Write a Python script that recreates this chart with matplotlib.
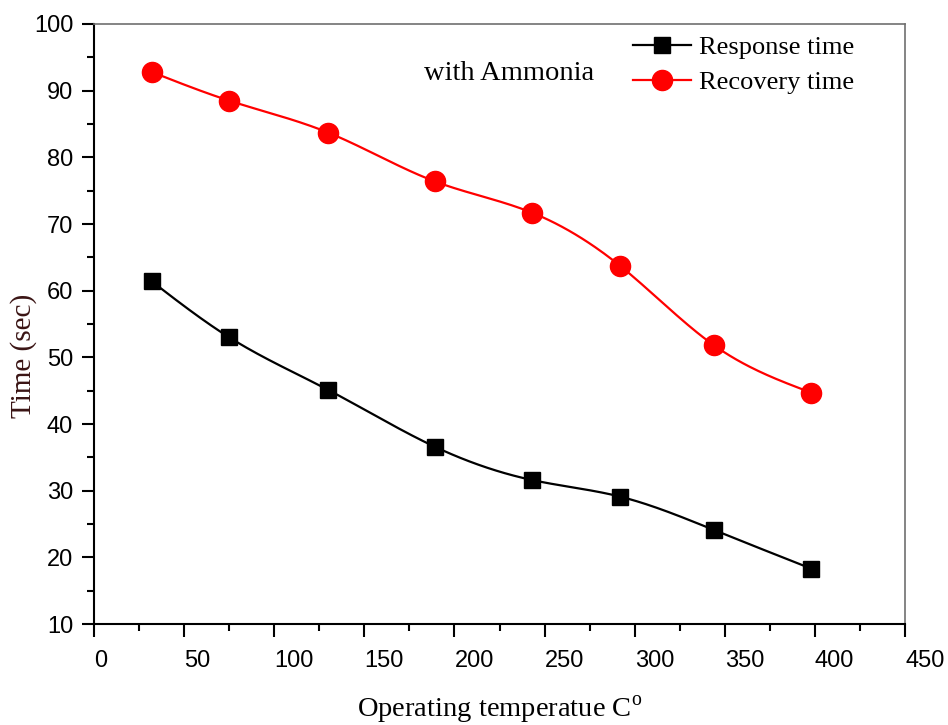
import numpy as np
import matplotlib
matplotlib.use("Agg")
import matplotlib.pyplot as plt
from matplotlib.ticker import MultipleLocator
from matplotlib.lines import Line2D

plt.rcParams['mathtext.fontset'] = 'custom'
plt.rcParams['mathtext.rm'] = 'Liberation Serif'

# Operating temperature (C) and measured times (sec)
temperature = [32, 75, 130, 189, 243, 292, 344, 398]
response_time = [61.4, 53.0, 45.1, 36.6, 31.6, 29.1, 24.1, 18.3]
recovery_time = [92.8, 88.5, 83.7, 76.4, 71.7, 63.7, 51.8, 44.7]


def natural_spline(x, y, n=300):
    # natural cubic spline through the points, for a smooth connecting line
    x = np.asarray(x, float)
    y = np.asarray(y, float)
    k = len(x)
    h = np.diff(x)
    A = np.zeros((k, k))
    r = np.zeros(k)
    A[0, 0] = A[-1, -1] = 1
    for i in range(1, k - 1):
        A[i, i - 1] = h[i - 1]
        A[i, i] = 2 * (h[i - 1] + h[i])
        A[i, i + 1] = h[i]
        r[i] = 3 * ((y[i + 1] - y[i]) / h[i] - (y[i] - y[i - 1]) / h[i - 1])
    c = np.linalg.solve(A, r)
    b = (y[1:] - y[:-1]) / h - h * (2 * c[:-1] + c[1:]) / 3
    d = (c[1:] - c[:-1]) / (3 * h)
    xs = np.linspace(x[0], x[-1], n)
    idx = np.clip(np.searchsorted(x, xs) - 1, 0, k - 2)
    t = xs - x[idx]
    ys = y[idx] + b[idx] * t + c[idx] * t ** 2 + d[idx] * t ** 3
    return xs, ys


fig = plt.figure(figsize=(9.48, 7.25), dpi=100)
ax = fig.add_axes([0.0992, 0.1393, 0.8555, 0.8276])

xs, ys = natural_spline(temperature, response_time)
ax.plot(xs, ys, color='black', lw=1.6, zorder=2)
ax.plot(temperature, response_time, 's', color='black', ms=12, zorder=3)

xs, ys = natural_spline(temperature, recovery_time)
ax.plot(xs, ys, color='red', lw=1.6, zorder=2)
ax.plot(temperature, recovery_time, 'o', color='red', ms=14.5, zorder=3)

ax.set_xlim(0, 450)
ax.set_ylim(10, 100)
ax.xaxis.set_major_locator(MultipleLocator(50))
ax.xaxis.set_minor_locator(MultipleLocator(25))
ax.yaxis.set_major_locator(MultipleLocator(10))
ax.yaxis.set_minor_locator(MultipleLocator(5))

for side in ['left', 'bottom']:
    ax.spines[side].set_linewidth(1.5)
    ax.spines[side].set_color('black')
for side in ['top', 'right']:
    ax.spines[side].set_linewidth(1.2)
    ax.spines[side].set_color('#707070')

ax.tick_params(which='major', direction='out', length=9, width=1.5,
               top=False, right=False)
ax.tick_params(which='minor', direction='out', length=4.8, width=1.5,
               top=False, right=False)
ax.tick_params(axis='x', which='major', pad=10)
ax.tick_params(axis='y', which='major', pad=6)

for lab in ax.get_xticklabels() + ax.get_yticklabels():
    lab.set_fontfamily('Liberation Sans')
    lab.set_fontsize(17)
for lab in ax.get_xticklabels():
    lab.set_horizontalalignment('left')

ax.set_xlabel(r'Operating temperatue C$^\mathrm{o}$', family='Liberation Serif',
              fontsize=20.5)
ax.xaxis.set_label_coords(0.5, -0.116)
ax.xaxis.label.set_verticalalignment('top')
ax.set_ylabel('Time (sec)', family='Liberation Serif', fontsize=21,
              color='#3a1414')
ax.yaxis.set_label_coords(-0.07, 0.447)

ax.text(0.407, 0.918, 'with Ammonia', transform=ax.transAxes,
        family='Liberation Serif', fontsize=20.5, va='center', ha='left')

handles = [
    Line2D([], [], color='black', lw=1.6, marker='s', ms=12),
    Line2D([], [], color='red', lw=1.6, marker='o', ms=14.5),
]
ax.legend(handles, ['Response time', 'Recovery time'], loc='upper left',
          bbox_to_anchor=(0.664, 0.98), frameon=False,
          prop={'family': 'Liberation Serif', 'size': 19},
          handlelength=2.2, handletextpad=0.3, labelspacing=0.42,
          borderpad=0, borderaxespad=0)

fig.savefig('out.png', dpi=100)
